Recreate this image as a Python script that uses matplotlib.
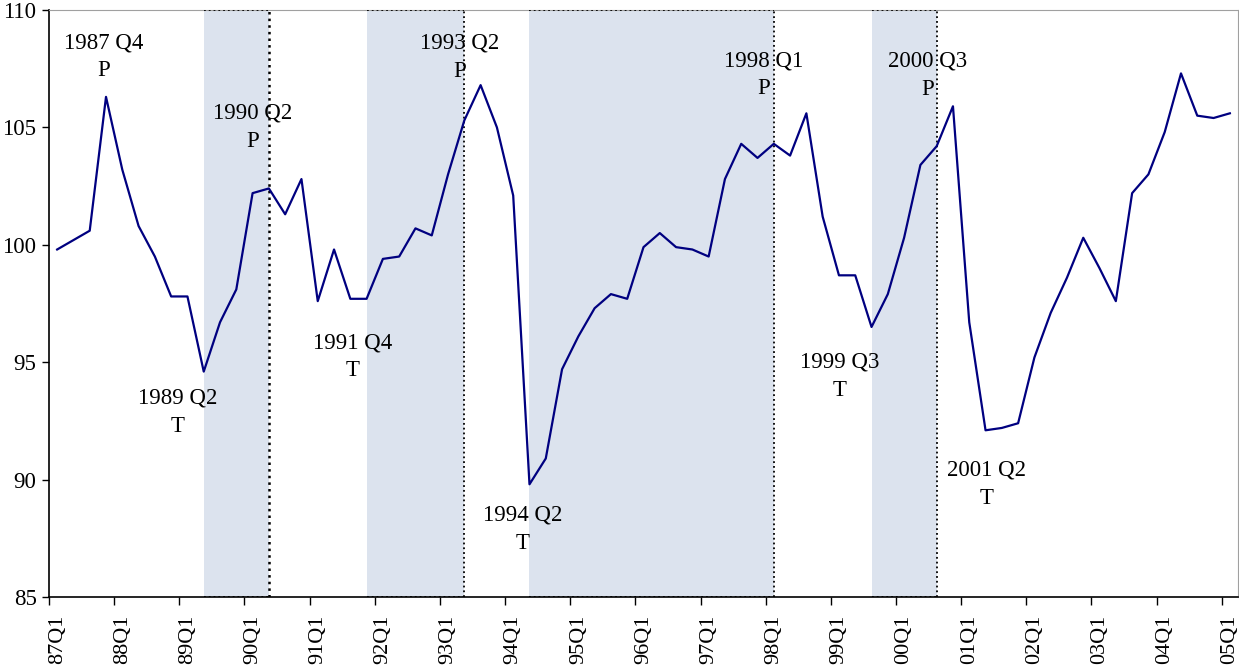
import numpy as np
import matplotlib
matplotlib.use("Agg")
import matplotlib.pyplot as plt

plt.rcParams['font.family'] = ['Liberation Serif', 'DejaVu Serif']

# quarterly index, 87Q1 .. 05Q1
quarters = [f"{y % 100:02d}Q{q}" for y in range(1987, 2006) for q in range(1, 5)][:73]
values = [99.8, 100.2, 100.6, 106.3, 103.2, 100.8, 99.5, 97.8, 97.8, 94.6,
          96.7, 98.1, 102.2, 102.4, 101.3, 102.8, 97.6, 99.8, 97.7, 97.7,
          99.4, 99.5, 100.7, 100.4, 103.0, 105.3, 106.8, 105.0, 102.1, 89.8,
          90.9, 94.7, 96.1, 97.3, 97.9, 97.7, 99.9, 100.5, 99.9, 99.8,
          99.5, 102.8, 104.3, 103.7, 104.3, 103.8, 105.6, 101.2, 98.7, 98.7,
          96.5, 97.9, 100.3, 103.4, 104.2, 105.9, 96.7, 92.1, 92.2, 92.4,
          95.2, 97.1, 98.6, 100.3, 99.0, 97.6, 102.2, 103.0, 104.8, 107.3,
          105.5, 105.4, 105.6]

# shaded phases: trough index -> peak index
phases = [(9, 13), (19, 25), (29, 44), (50, 54)]

# turning point labels: (index, label, marker, offset in pixels)
turns = [
    (3, "1987 Q4", "P", (-2, 40)),
    (9, "1989 Q2", "T", (-26, -41)),
    (13, "1990 Q2", "P", (-16, 61)),
    (19, "1991 Q4", "T", (-14, -58)),
    (25, "1993 Q2", "P", (-5, 63)),
    (29, "1994 Q2", "T", (-7, -45)),
    (44, "1998 Q1", "P", (-10, 69)),
    (50, "1999 Q3", "T", (-32, -49)),
    (54, "2000 Q3", "P", (-9, 71)),
    (57, "2001 Q2", "T", (1, -54)),
]

x = np.arange(len(values))

fig = plt.figure(figsize=(12.39, 6.70), dpi=100)
ax = fig.add_axes([49 / 1239, 1 - 597 / 670, 1189 / 1239, 587 / 670])

for n, (t, p) in enumerate(phases):
    ax.axvspan(t, p, color="#dce3ee", lw=0, zorder=0)
    ax.vlines(p, 85, 110, colors="black", linestyles=":", lw=1.8 if n == 0 else 1.3, zorder=1)
    ax.hlines([85, 110], t, p, colors="black", linestyles=":", lw=1.3, zorder=3)

ax.plot(x, values, color="#000080", lw=1.6, zorder=2)

for i, lab, mk, off in turns:
    ax.annotate(lab + "\n" + mk, xy=(i, values[i]), xytext=off,
                textcoords="offset pixels", ha="center", va="center",
                fontsize=16.5, linespacing=1.45)

ax.set_xlim(-0.5, len(values) - 0.5)
ax.set_ylim(85, 110)
ax.set_yticks(np.arange(85, 111, 5))

ax.set_xticks(np.arange(-0.5, len(values), 4))
ax.set_xticklabels([])
ax.set_xticks(x[::4], minor=True)
ax.set_xticklabels(quarters[::4], minor=True, rotation=90, va="top")
ax.tick_params(axis="x", which="major", direction="out", length=6, width=1)
ax.tick_params(axis="x", which="minor", length=0, pad=13, labelsize=16)
ax.tick_params(axis="y", direction="out", length=5, width=1, labelsize=16.5, pad=4)

ax.spines["top"].set_color("#a0a0a0")
ax.spines["right"].set_color("#a0a0a0")
ax.spines["left"].set_linewidth(1.2)
ax.spines["bottom"].set_linewidth(1.2)

fig.savefig("out.png", dpi=100)
